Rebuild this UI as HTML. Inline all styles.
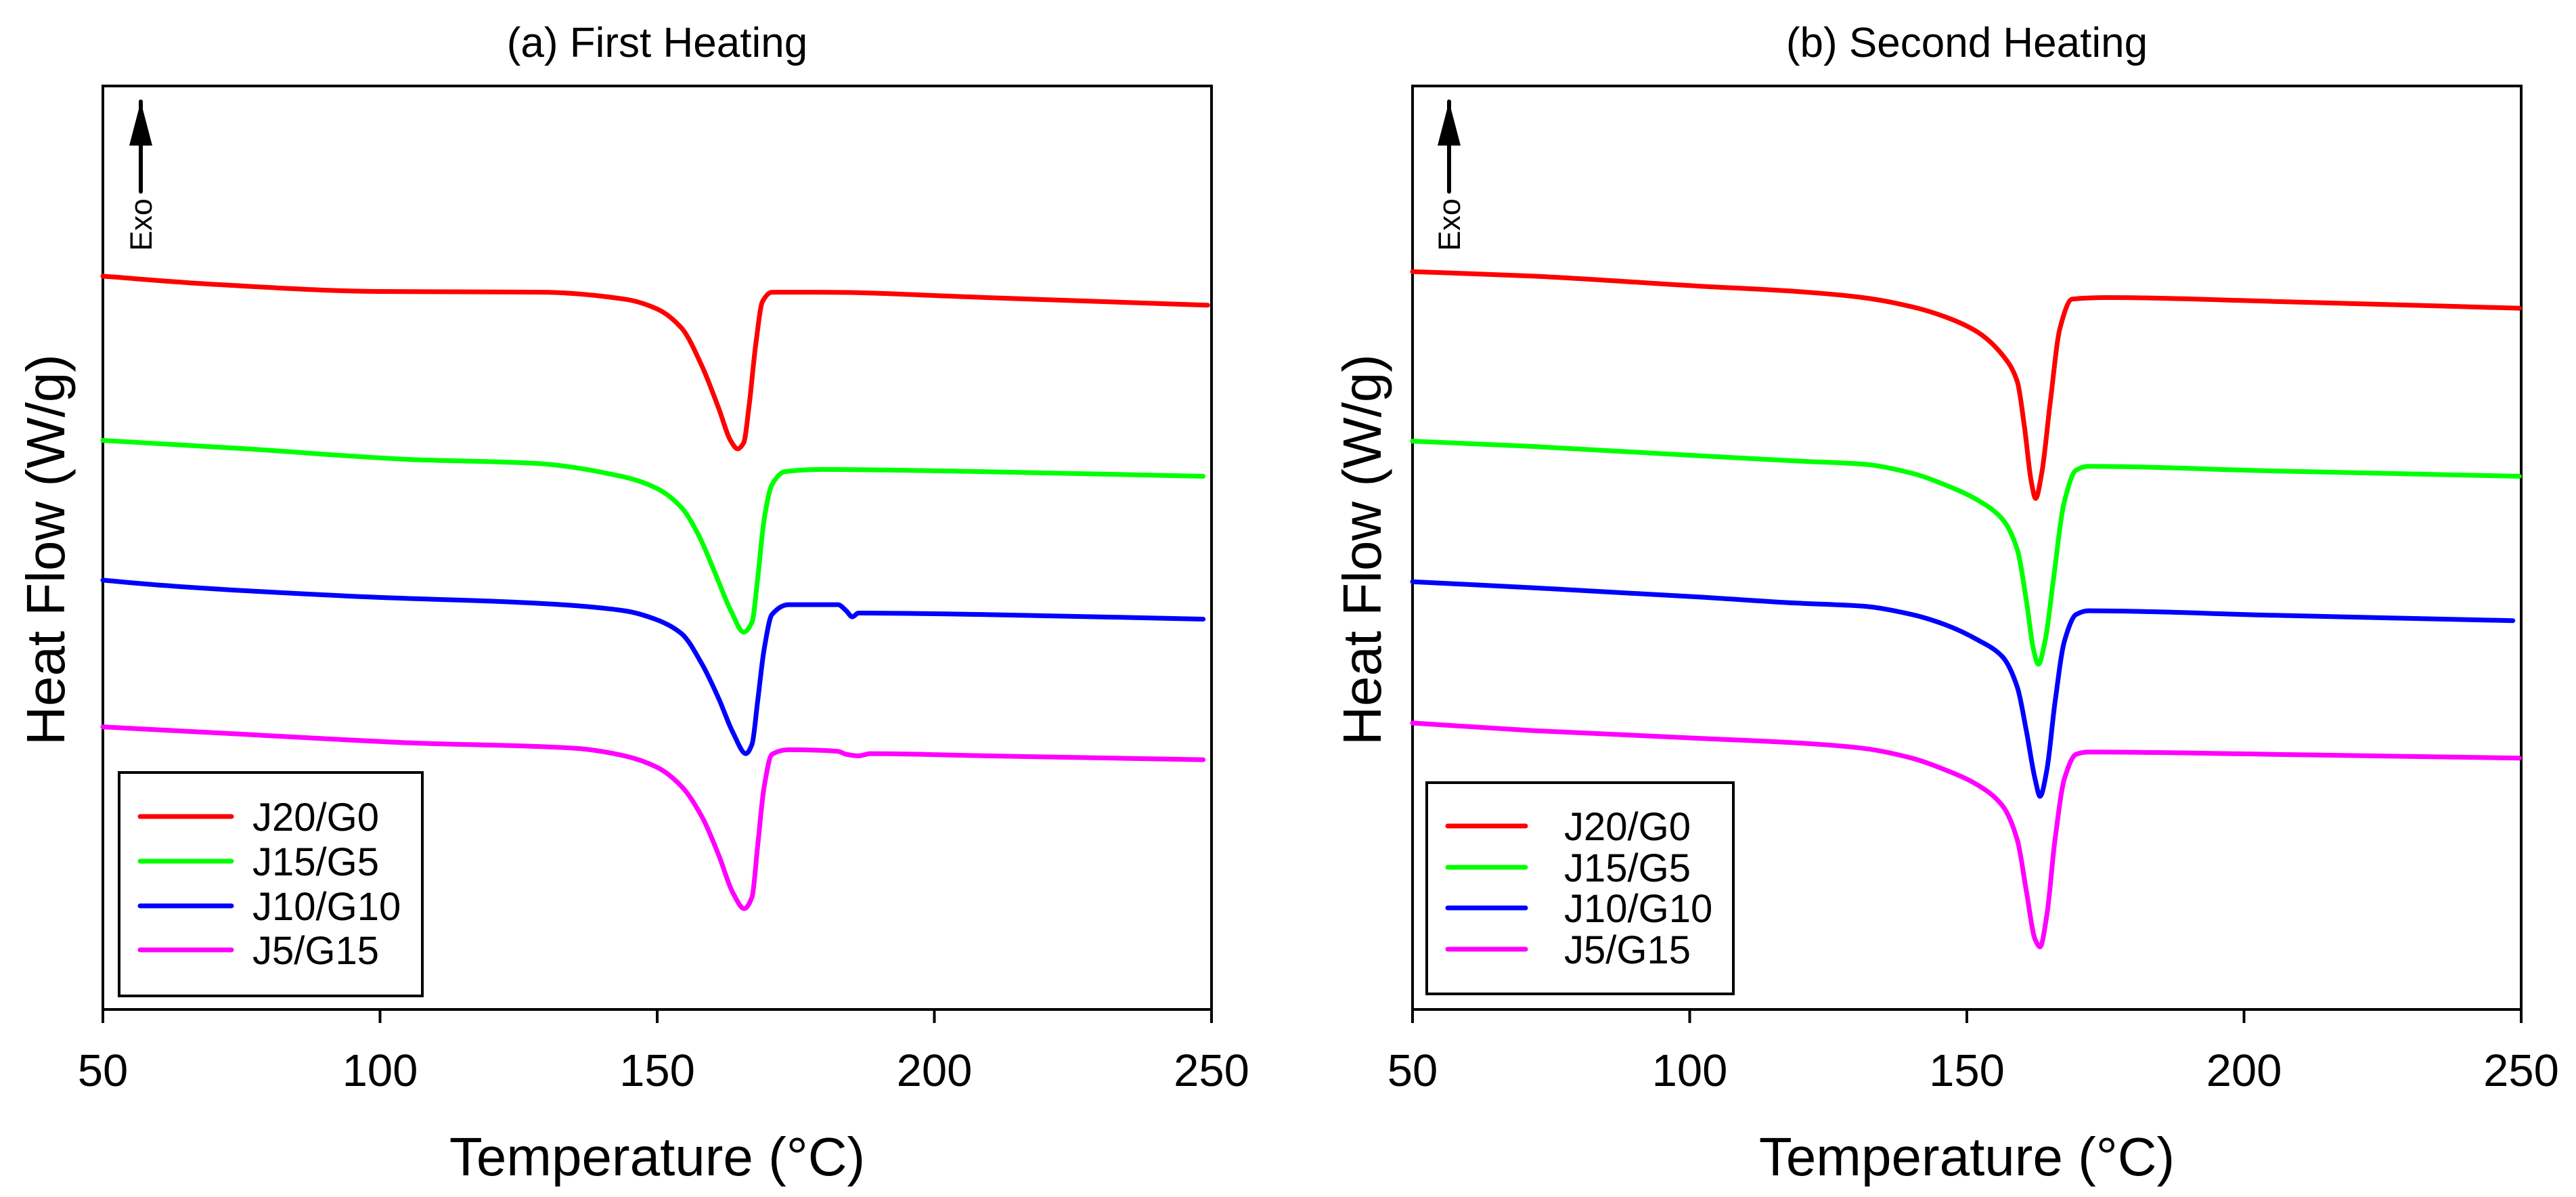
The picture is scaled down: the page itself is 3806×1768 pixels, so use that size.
<!DOCTYPE html>
<html><head><meta charset="utf-8"><style>
html,body{margin:0;padding:0;background:#fff}
svg{display:block}
text{font-family:"Liberation Sans",Arial,sans-serif;fill:#000}
</style></head><body>
<svg id="chart" width="3806" height="1768" viewBox="0 0 3806 1768" xmlns="http://www.w3.org/2000/svg"></svg>
<script>
// ---- data (temperature in °C, heat flow in arbitrary offset units) ----
const seriesNames = ["J20/G0","J15/G5","J10/G10","J5/G15"];
const seriesColors = ["#ff0000","#00ff00","#0000ff","#ff00ff"];
const xTicks = [50,100,150,200,250];

const aRedT = [50,68.5,99.6,129.3,144.1,150,154.4,158.1,161.1,163.3,164.5,165.6,166.6,167.8,169,170.7,179.6,209.3,249.3];
const aRedV = [9.60,9.50,9.40,9.39,9.30,9.17,8.92,8.42,7.87,7.44,7.34,7.42,7.92,8.72,9.27,9.39,9.39,9.32,9.22];
const aGreenT = [50,75.9,105.6,127.8,144.1,150,154.4,157.4,160.4,163.3,165.6,167.1,168.1,169.3,170.7,173,179.6,209.3,248.5];
const aGreenV = [7.45,7.34,7.20,7.15,6.97,6.82,6.57,6.22,5.72,5.22,4.94,5.07,5.62,6.42,6.87,7.04,7.07,7.04,6.98];
const aBlueT = [50,61.1,98.1,127.8,144.1,150,154.4,158.1,161.1,163.7,166,167.1,168.1,169.3,170.7,173.7,182.6,184.1,185.2,186.3,209.3,248.5];
const aBlueV = [5.62,5.55,5.40,5.32,5.22,5.10,4.92,4.52,4.07,3.62,3.35,3.47,4.02,4.72,5.17,5.30,5.30,5.22,5.14,5.19,5.17,5.11];
const aMagT = [50,75.9,105.6,135.2,144.1,150,154.4,158.1,161.1,163.7,165.7,167.1,168.1,169.3,170.7,173.7,182.6,184.1,186.3,188.5,209.3,248.5];
const aMagV = [3.70,3.60,3.49,3.42,3.32,3.17,2.92,2.52,2.02,1.52,1.32,1.47,2.12,2.92,3.34,3.40,3.38,3.34,3.32,3.35,3.32,3.27];

const bRedT = [50,71.9,101.6,119.3,131.2,140.1,146,151.9,156.4,159.1,160.4,161.6,162.4,163.5,165,166.8,169,175.6,205.3,249.7];
const bRedV = [9.66,9.60,9.47,9.40,9.32,9.20,9.07,8.87,8.57,8.22,7.62,6.92,6.69,7.02,7.92,8.92,9.30,9.32,9.27,9.18];
const bGreenT = [50,71.9,101.6,119.3,131.2,140.1,146,151.9,156.4,159.1,160.8,162,162.9,164.1,165.6,167.5,169.7,171.9,205.3,249.7];
const bGreenV = [7.44,7.37,7.25,7.18,7.14,7.02,6.87,6.67,6.42,6.02,5.32,4.72,4.52,4.82,5.62,6.62,7.06,7.11,7.05,6.98];
const bBlueT = [50,71.9,101.6,119.3,131.2,140.1,146,151.9,156.4,159.1,160.8,162.3,163.2,164.4,165.9,167.6,169.7,171.9,205.3,248.5];
const bBlueV = [5.60,5.52,5.40,5.32,5.28,5.17,5.04,4.84,4.62,4.22,3.62,3.02,2.79,3.12,4.02,4.82,5.17,5.22,5.16,5.09];
const bMagT = [50,71.9,101.6,119.3,131.2,140.1,146,151.9,156.4,159.1,160.8,162.3,163.2,164.4,165.9,167.6,169.7,171.9,205.3,249.7];
const bMagV = [3.75,3.65,3.55,3.49,3.42,3.29,3.14,2.94,2.67,2.22,1.52,0.92,0.82,1.22,2.22,3.02,3.34,3.37,3.34,3.29];

const NS = "http://www.w3.org/2000/svg";
const svg = document.getElementById("chart");
function mk(tag, attrs, parent){
  const e = document.createElementNS(NS, tag);
  for (const k in attrs) e.setAttribute(k, attrs[k]);
  (parent||svg).appendChild(e);
  return e;
}
// monotone cubic (Fritsch-Carlson) path, no overshoot
function smoothPath(pts){
  const n = pts.length;
  const dx=[], dy=[], m=[];
  for (let i=0;i<n-1;i++){ dx[i]=pts[i+1][0]-pts[i][0]; dy[i]=pts[i+1][1]-pts[i][1]; m[i]=dy[i]/dx[i]; }
  const t=[m[0]];
  for (let i=1;i<n-1;i++){
    if (m[i-1]*m[i] <= 0) t[i]=0;
    else { const w1=2*dx[i]+dx[i-1], w2=dx[i]+2*dx[i-1]; t[i]=(w1+w2)/(w1/m[i-1]+w2/m[i]); }
  }
  t[n-1]=m[n-2];
  let d = "M" + pts[0][0].toFixed(1) + "," + pts[0][1].toFixed(1);
  for (let i=0;i<n-1;i++){
    const h=dx[i]/3;
    d += " C"+(pts[i][0]+h).toFixed(1)+","+(pts[i][1]+t[i]*h).toFixed(1)+" "+(pts[i+1][0]-h).toFixed(1)+","+(pts[i+1][1]-t[i+1]*h).toFixed(1)+" "+pts[i+1][0].toFixed(1)+","+pts[i+1][1].toFixed(1);
  }
  return d;
}

function panel(cfg){
  const L=cfg.left, R=cfg.left+1638, T=127, B=1491;
  const xs = t => L + (t-50)/200*(R-L);
  const ys = v => B - v/12.09*(B-T);
  const g = mk("g",{});
  
  

  const title = mk("text",{x:(L+R)/2, y:84, "font-size":62, "text-anchor":"middle"}, g);
  title.textContent = cfg.title;
  
  

  const frame = mk("rect",{x:L,y:T,width:R-L,height:B-T,fill:"none",stroke:"#000","stroke-width":4}, g);
  
  

  xTicks.forEach(t=>{
    const tk = mk("line",{x1:xs(t),x2:xs(t),y1:B,y2:B+20,stroke:"#000","stroke-width":4}, g);
    
    
    const lb = mk("text",{x:xs(t), y:1604, "font-size":67, "text-anchor":"middle"}, g);
    lb.textContent = t;
    
    
  });

  const xt = mk("text",{x:(L+R)/2, y:1736, "font-size":80, "text-anchor":"middle"}, g);
  xt.textContent = "Temperature (°C)";
  
  

  const yt = mk("text",{x:0,y:0,"font-size":80,"text-anchor":"middle",transform:"translate("+(cfg.yTitleX+28)+",812) rotate(-90)"}, g);
  yt.textContent = "Heat Flow (W/g)";
  
  

  const ax = cfg.arrowX;
  const al = mk("line",{x1:ax,x2:ax,y1:283,y2:150,stroke:"#000","stroke-width":6,"stroke-linecap":"round"}, g);
  
  
  const ah = mk("polygon",{points:(ax)+",150 "+(ax-17)+",215 "+(ax+17)+",215",fill:"#000"}, g);
  
  
  const et = mk("text",{x:0,y:0,"font-size":45,"text-anchor":"middle",transform:"translate("+(ax+16)+",332) rotate(-90)"}, g);
  et.textContent = "Exo";
  
  

  cfg.series.forEach((s,i)=>{
    const pts = s[0].map((t,j)=>[xs(t), ys(s[1][j])]);
    const p = mk("path",{d:smoothPath(pts),fill:"none",stroke:seriesColors[i],"stroke-width":7,"stroke-linejoin":"round","stroke-linecap":"round"}, g);
    
    
  });

  const lg = cfg.legend;
  const box = mk("rect",{x:lg.x,y:lg.y,width:lg.w,height:lg.h,fill:"#fff",stroke:"#000","stroke-width":4}, g);
  
  
  seriesNames.forEach((n,i)=>{
    const y = lg.rows[i];
    const ln = mk("line",{x1:lg.l1,x2:lg.l2,y1:y,y2:y,stroke:seriesColors[i],"stroke-width":7,"stroke-linecap":"round"}, g);
    
    
    const tx = mk("text",{x:lg.tx,y:y+21,"font-size":58}, g);
    tx.textContent = n;
    
    
  });
}

panel({id:"first-heating", left:152, title:"(a) First Heating", yTitleX:67, arrowX:208,
  series:[[aRedT,aRedV],[aGreenT,aGreenV],[aBlueT,aBlueV],[aMagT,aMagV]],
  legend:{x:176,y:1141,w:448,h:330,l1:207,l2:342,tx:373,rows:[1206,1272,1338,1403]}});
panel({id:"second-heating", left:2087, title:"(b) Second Heating", yTitleX:2012, arrowX:2141,
  series:[[bRedT,bRedV],[bGreenT,bGreenV],[bBlueT,bBlueV],[bMagT,bMagV]],
  legend:{x:2108,y:1156,w:453,h:312,l1:2139,l2:2254,tx:2311,rows:[1220,1281,1341,1402]}});
</script>
</body></html>
